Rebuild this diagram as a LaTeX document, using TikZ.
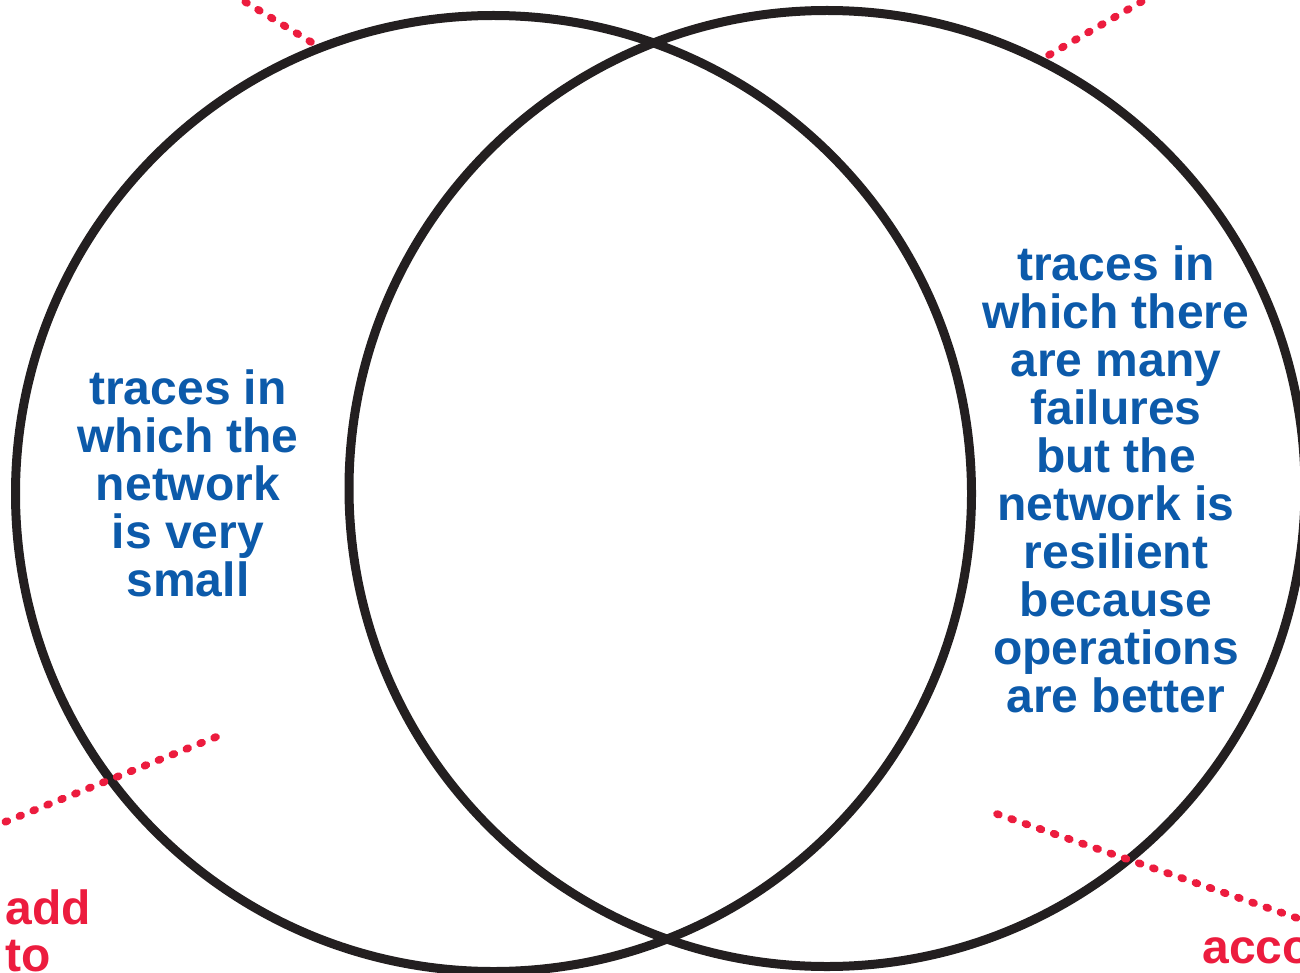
\documentclass[tikz,border=0pt]{standalone}
\usepackage{fontspec}
\setmainfont{Liberation Sans}
\definecolor{ringblack}{RGB}{35,31,32}
\definecolor{setblue}{RGB}{12,90,170}
\definecolor{notered}{RGB}{236,28,62}
\begin{document}
\begin{tikzpicture}[x=0.5pt,y=-0.5pt,
  ring/.style={draw=ringblack,line width=4.5pt},
  settext/.style={text=setblue,font=\bfseries\fontsize{24}{24}\selectfont,align=center,inner sep=0pt},
  notetext/.style={text=notered,font=\bfseries\fontsize{24}{23.5}\selectfont,align=left,inner sep=0pt},
  leader/.style={draw=notered,line width=3.8pt,line cap=round,dash pattern=on 1pt off 6.5pt}]
  \useasboundingbox (0,0) rectangle (1300,973);
  \clip (0,0) rectangle (1300,973);
  % the two overlapping sets
  \coordinate (cl) at (493.5,493.5);
  \coordinate (cr) at (827,488.5);
  \draw[ring] (cl) circle[radius=478];
  \draw[ring] (cr) circle[radius=478];
  % set descriptions
  \node[settext,anchor=north] (small) at (188,369)
    {traces in\\which the\\network\\is very\\small};
  \node[settext,anchor=north] (resilient) at (1116,245)
    {traces in\\which there\\are many\\failures\\but the\\network is\\resilient\\because\\operations\\are better};
  % annotations at the edges
  \node[notetext,anchor=north west] (add) at (5,889) {add\\to};
  \node[notetext,anchor=north west] (acco) at (1202,937) {acco};
  % dotted leaders
  \coordinate (tl0) at (229,-8);
  \coordinate (tl1) at (311,42);
  \coordinate (tr0) at (1160,-9);
  \coordinate (tr1) at (1049,55);
  \coordinate (bl0) at (-20,832);
  \coordinate (bl1) at (216,737);
  \coordinate (br0) at (1320,926);
  \coordinate (br1) at (997,814);
  \draw[leader] (tl1) -- (tl0);
  \draw[leader] (tr1) -- (tr0);
  \draw[leader] (bl1) -- (bl0);
  \draw[leader] (br1) -- (br0);
\end{tikzpicture}
\end{document}
